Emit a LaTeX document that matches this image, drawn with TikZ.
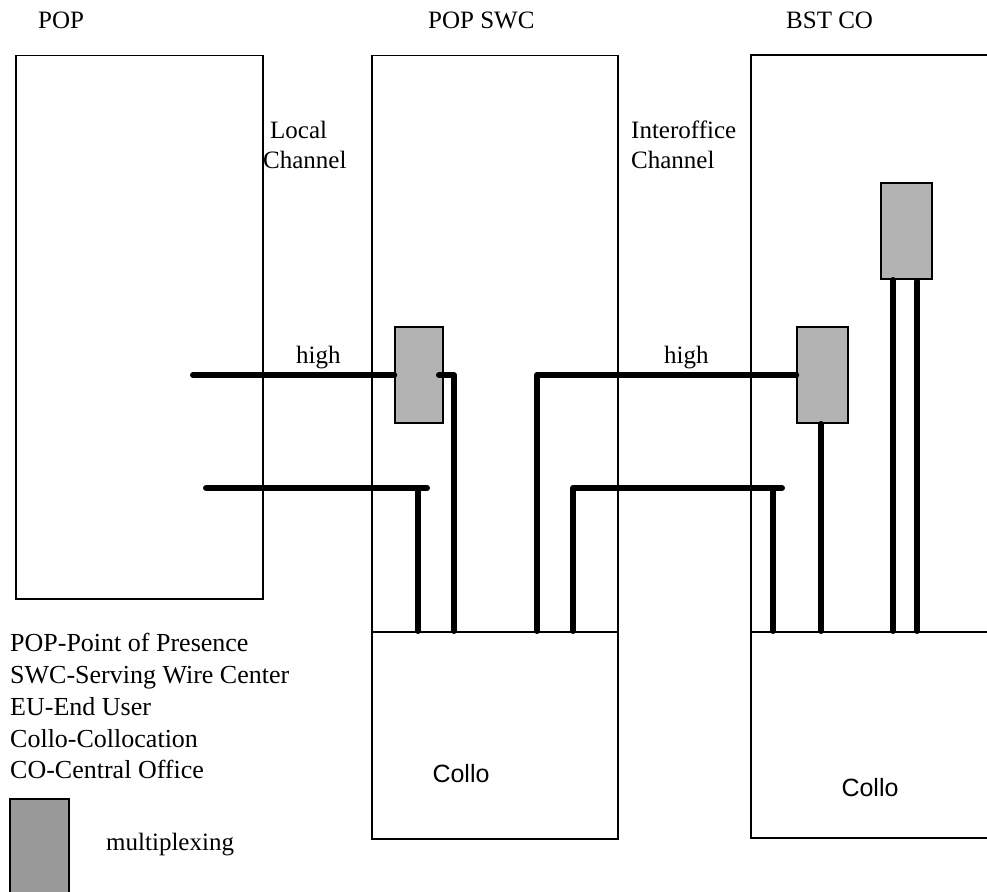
\documentclass[tikz,border=0pt]{standalone}
\usepackage{fontspec}
\setmainfont{Liberation Serif}
\newfontfamily\arialfont{Liberation Sans}
\definecolor{muxgray}{HTML}{B3B3B3}
\definecolor{keygray}{HTML}{999999}
\newcommand{\bigtxt}{\fontsize{25}{30}\selectfont}
\newcommand{\keytxt}{\fontsize{26}{31}\selectfont}
\begin{document}
\begin{tikzpicture}[x=1pt,y=-1pt,
  thinline/.style={line width=1.5pt},
  sitebox/.style={draw, line width=1.5pt, inner sep=0, anchor=north west},
  wire/.style={line width=6pt, line cap=round, line join=round},
  muxbox/.style={draw, line width=1.5pt, fill=muxgray, inner sep=0},
  lbl/.style={inner sep=0, anchor=base west, font=\bigtxt},
  keylbl/.style={inner sep=0, anchor=base west, font=\keytxt},
  sanslbl/.style={inner sep=0, anchor=base, font=\arialfont\bigtxt}]
\useasboundingbox (0,0) rectangle (987,891);

% site boxes
\node[sitebox, minimum width=247pt, minimum height=543pt] (pop) at (15,55) {};
\node[sitebox, minimum width=246pt, minimum height=783pt] (swc) at (371,55) {};
\draw[thinline] (995,55) -- (751,55) -- (751,838) -- (995,838);
\coordinate (bstnw) at (751,55);
% collocation dividers
\draw[thinline] (371,632) -- (617,632);
\draw[thinline] (751,632) -- (995,632);

% multiplexers
\node[muxbox, minimum width=48pt, minimum height=96pt] (mux1) at (419,375) {};
\node[muxbox, minimum width=51pt, minimum height=96pt] (mux2) at (822.5,375) {};
\node[muxbox, minimum width=51pt, minimum height=96pt] (mux3) at (906.5,231) {};
\node[draw, line width=1.5pt, fill=keygray, inner sep=0, anchor=north west,
      minimum width=59pt, minimum height=110pt] (keymux) at (9,798) {};

% wire end points
\coordinate (a0) at (193,375);
\coordinate (b0) at (439,375);
\coordinate (b1) at (454,375);
\coordinate (b2) at (454,631);
\coordinate (c0) at (206,488);
\coordinate (c1) at (427,488);
\coordinate (c2) at (418,488);
\coordinate (c3) at (418,631);
\coordinate (d0) at (537,631);
\coordinate (d1) at (537,375);
\coordinate (e0) at (573,631);
\coordinate (e1) at (573,488);
\coordinate (e2) at (782,488);
\coordinate (e3) at (773,488);
\coordinate (e4) at (773,631);
\coordinate (f0) at (821,424);
\coordinate (f1) at (821,631);
\coordinate (g0) at (893,280);
\coordinate (g1) at (893,631);
\coordinate (h0) at (917,281);
\coordinate (h1) at (917,631);

% wires
\draw[wire] (a0) -- (mux1.west);
\draw[wire] (b0) -- (b1) -- (b2);
\draw[wire] (c0) -- (c1);
\draw[wire] (c2) -- (c3);
\draw[wire] (d0) -- (d1) -- (mux2.west);
\draw[wire] (e0) -- (e1) -- (e2);
\draw[wire] (e3) -- (e4);
\draw[wire] (f0) -- (f1);
\draw[wire] (g0) -- (g1);
\draw[wire] (h0) -- (h1);

% headers
\node[lbl] (tpop) at (38,29) {POP};
\node[lbl] (tswc) at (428,29) {POP SWC};
\node[lbl] (tbst) at (786,29) {BST CO};

% channel labels
\node[lbl] (loc1) at (270,138) {Local};
\node[lbl] (loc2) at (263,168) {Channel};
\node[lbl] (io1) at (631,138) {Interoffice};
\node[lbl] (io2) at (631,168) {Channel};
\node[lbl] (hi1) at (296,363) {high};
\node[lbl] (hi2) at (664,363) {high};

% collo labels
\node[sanslbl] (col1) at (461,782) {Collo};
\node[sanslbl] (col2) at (870,796) {Collo};

% legend
\node[keylbl] (lg1) at (10,651) {POP-Point of Presence};
\node[keylbl] (lg2) at (10,683) {SWC-Serving Wire Center};
\node[keylbl] (lg3) at (10,715) {EU-End User};
\node[keylbl] (lg4) at (10,747) {Collo-Collocation};
\node[keylbl] (lg5) at (10,778) {CO-Central Office};
\node[lbl] (lg6) at (106,850) {multiplexing};
\end{tikzpicture}
\end{document}
